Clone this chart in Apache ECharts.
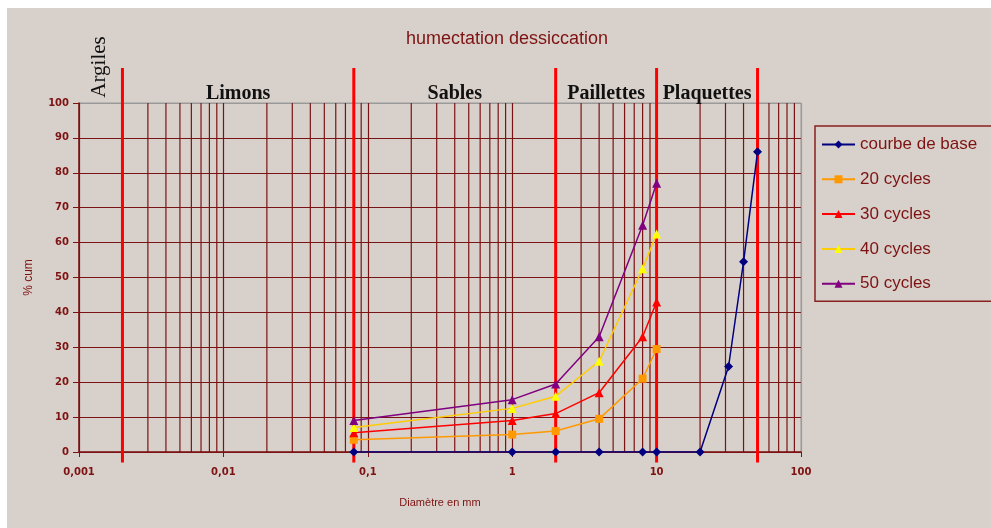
<!DOCTYPE html>
<html>
<head>
<meta charset="utf-8">
<script src="https://cdn.jsdelivr.net/npm/echarts@6/dist/echarts.min.js"></script>
<style>
  html, body { margin: 0; background: #fff; }
  #chart { width: 991px; height: 528px; background: #d8d0ca; box-shadow: inset 7px 8px 0 #fff; }
</style>
</head>
<body>
<div id="chart"></div>
<script>
// diametres (mm) where the cycles were measured
const diametres = [0.08, 1, 2, 4, 8, 10];
const baseDiametres = [0.08, 1, 2, 4, 8, 10, 20, 31.5, 40, 50];
const courbeBase = [0, 0, 0, 0, 0, 0, 0, 24.5, 54.5, 86];
const cycles20 = [3.5, 5, 6, 9.5, 21, 29.5];
const cycles30 = [5.5, 9, 11, 17, 33, 43];
const cycles40 = [7, 12.5, 16, 26, 52.5, 62.5];
const cycles50 = [9, 15, 19.5, 33, 65, 77];
const seriesNames = ['courbe de base', '20 cycles', '30 cycles', '40 cycles', '50 cycles'];

// classes granulometriques
const zoneNames = ['Argiles', 'Limons', 'Sables', 'Paillettes', 'Plaquettes'];
const zoneStart = [0.001, 0.002, 0.08, 2, 10];
const zoneEnd = [0.002, 0.08, 2, 10, 50];

const xTickLabels = ['0,001', '0,01', '0,1', '1', '10', '100'];
const minorTicks = [
  0.002, 0.003, 0.004, 0.005, 0.006, 0.007, 0.008, 0.009,
  0.02, 0.03, 0.04, 0.05, 0.06, 0.07, 0.08, 0.09,
  0.2, 0.3, 0.4, 0.5, 0.6, 0.7, 0.8, 0.9,
  2, 3, 4, 5, 6, 7, 8, 9,
  20, 30, 40, 50, 60, 70, 80, 90
];

const darkRed = '#7d1212';
const gridRed = '#7a1414';

const zip = (xs, ys) => xs.map((x, i) => [x, ys[i]]);

const myChart = echarts.init(document.getElementById('chart'));
const option = {
  animation: false,
  backgroundColor: 'transparent',
  title: {
    text: 'humectation dessiccation',
    left: 401,
    top: 25,
    textStyle: { color: darkRed, fontSize: 18, fontWeight: 'normal', fontFamily: 'Liberation Sans' }
  },
  legend: {
    data: seriesNames,
    orient: 'vertical',
    left: 815,
    top: 126,
    padding: [10, 40, 9, 6],
    itemGap: 17.8,
    itemWidth: 33,
    itemHeight: 10,
    borderColor: '#8b2020',
    borderWidth: 1.5,
    textStyle: { color: darkRed, fontSize: 17, fontFamily: 'Liberation Sans' }
  },
  grid: {
    left: 79, right: 190, top: 103, bottom: 76,
    show: true, borderColor: '#9a9a9a', borderWidth: 1, backgroundColor: 'transparent'
  },
  xAxis: {
    type: 'log',
    logBase: 10,
    min: 0.001,
    max: 100,
    name: 'Diamètre en mm',
    nameLocation: 'middle',
    nameGap: 45,
    nameTextStyle: { color: darkRed, fontSize: 11, fontFamily: 'Liberation Sans' },
    axisLine: { lineStyle: { color: darkRed, width: 1.5 } },
    axisTick: { show: true, length: 5, lineStyle: { color: darkRed } },
    axisLabel: {
      color: darkRed, fontSize: 10, fontWeight: 'bold', fontFamily: 'DejaVu Sans', margin: 15,
      formatter: v => xTickLabels[Math.round(Math.log10(v)) + 3]
    },
    splitLine: { show: true, lineStyle: { color: [gridRed, gridRed, gridRed, gridRed, gridRed, '#9a9a9a'], width: 1.2 } }
  },
  yAxis: {
    type: 'value',
    min: 0,
    max: 100,
    interval: 10,
    name: '% cum',
    nameLocation: 'middle',
    nameGap: 44,
    nameTextStyle: { color: darkRed, fontSize: 12, fontFamily: 'Liberation Sans' },
    axisLine: { show: true, lineStyle: { color: darkRed, width: 1.5 } },
    axisTick: { show: true, length: 6, lineStyle: { color: darkRed } },
    axisLabel: { color: darkRed, fontSize: 10, fontWeight: 'bold', fontFamily: 'DejaVu Sans', margin: 10 },
    splitLine: {
      show: true,
      lineStyle: {
        color: [gridRed, gridRed, gridRed, gridRed, gridRed, gridRed, gridRed, gridRed, gridRed, gridRed, '#9a9a9a'],
        width: 1.2
      }
    }
  },
  series: [
    {
      // minor vertical grid (2..9 of each decade)
      type: 'custom',
      name: 'grille',
      silent: true,
      z: 1,
      data: minorTicks.map(v => [v, 0]),
      renderItem: (params, api) => {
        const a = api.coord([api.value(0), 0]);
        const b = api.coord([api.value(0), 100]);
        return {
          type: 'line',
          shape: { x1: a[0], y1: a[1], x2: b[0], y2: b[1] },
          style: { stroke: gridRed, lineWidth: 1.2 }
        };
      }
    },
    {
      // class limits and names
      type: 'custom',
      name: 'classes',
      silent: true,
      z: 1.5,
      data: zoneEnd.map((e, i) => [zoneStart[i], e]),
      renderItem: (params, api) => {
        const x0 = api.value(0), x1 = api.value(1);
        const top = api.coord([x1, 110]);
        const bot = api.coord([x1, -3]);
        const mid = api.coord([Math.sqrt(x0 * x1), 100]);
        const left = api.coord([x0, 100]);
        const narrow = top[0] - left[0] < 60;
        const label = narrow
          ? {
              type: 'text', x: mid[0] - 1, y: mid[1] - 36, rotation: Math.PI / 2,
              style: { text: zoneNames[params.dataIndex], x: 0, y: 0, align: 'center', verticalAlign: 'middle',
                       fill: '#111', font: '21px "Liberation Serif"' }
            }
          : {
              type: 'text',
              style: { text: zoneNames[params.dataIndex], x: mid[0], y: mid[1] - 9, align: 'center', verticalAlign: 'middle',
                       fill: '#111', font: 'bold 20px "Liberation Serif"' }
            };
        return {
          type: 'group',
          children: [
            { type: 'line', shape: { x1: top[0], y1: top[1], x2: bot[0], y2: bot[1] },
              style: { stroke: '#ff0000', lineWidth: 3 } },
            label
          ]
        };
      }
    },
    {
      name: 'courbe de base', type: 'line', z: 3,
      data: zip(baseDiametres, courbeBase),
      symbol: 'diamond', symbolSize: 9,
      lineStyle: { color: '#000080', width: 1.5 },
      itemStyle: { color: '#000080' }
    },
    {
      name: '20 cycles', type: 'line', z: 3,
      data: zip(diametres, cycles20),
      symbol: 'rect', symbolSize: 8,
      lineStyle: { color: '#ff9900', width: 1.5 },
      itemStyle: { color: '#ff9900' }
    },
    {
      name: '30 cycles', type: 'line', z: 3,
      data: zip(diametres, cycles30),
      symbol: 'triangle', symbolSize: 9,
      lineStyle: { color: '#ff0000', width: 1.5 },
      itemStyle: { color: '#ff0000' }
    },
    {
      name: '40 cycles', type: 'line', z: 3,
      data: zip(diametres, cycles40),
      symbol: 'triangle', symbolSize: 9,
      lineStyle: { color: '#ffcc00', width: 1.5 },
      itemStyle: { color: '#ffff00' }
    },
    {
      name: '50 cycles', type: 'line', z: 3,
      data: zip(diametres, cycles50),
      symbol: 'triangle', symbolSize: 9,
      lineStyle: { color: '#800080', width: 1.5 },
      itemStyle: { color: '#800080' }
    }
  ]
};
myChart.setOption(option);
window.onresize = function() {
  myChart.resize();
};
</script>
</body>
</html>
